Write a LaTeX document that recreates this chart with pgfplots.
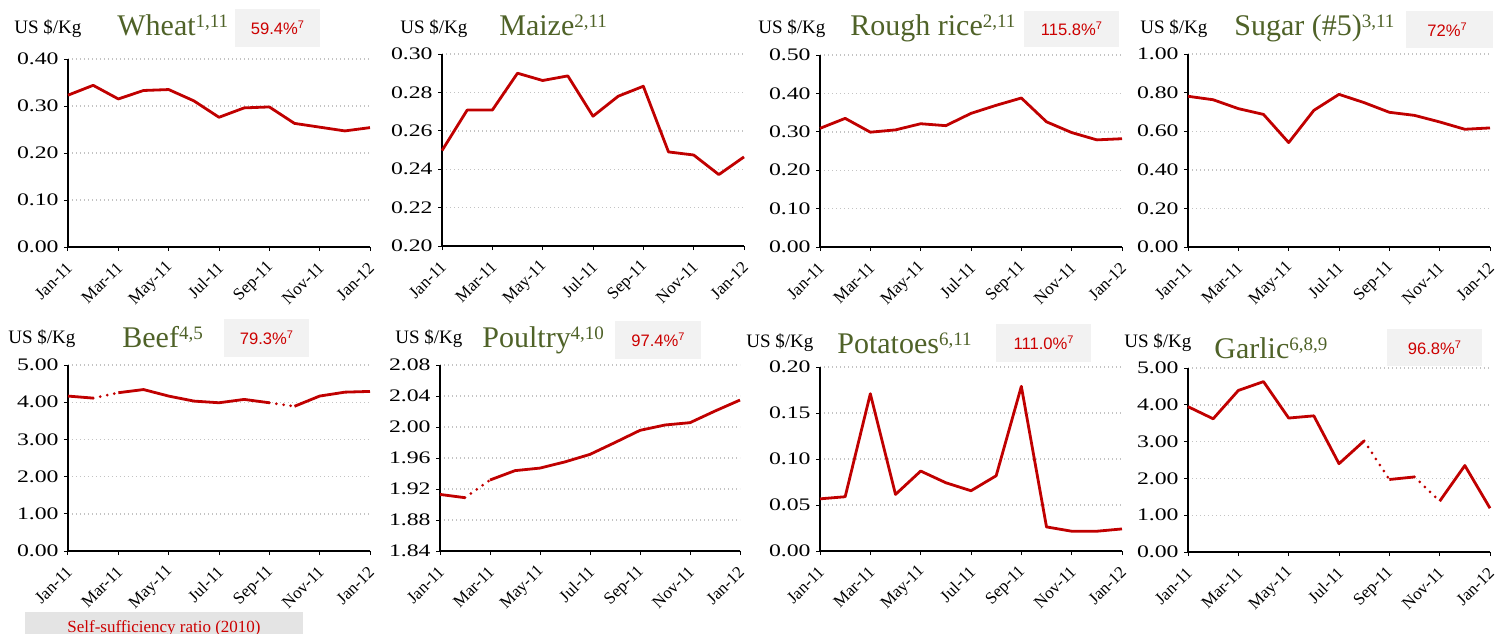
\documentclass[border=0pt]{standalone}
\usepackage{pgfplots}
\pgfplotsset{compat=1.18}
\usepackage{fontspec}
\setmainfont{Liberation Serif}
\newfontfamily\arial{Liberation Sans}
\usepackage{graphicx}
\definecolor{linered}{RGB}{192,0,0}
\definecolor{txtred}{RGB}{204,0,0}
\definecolor{olive}{RGB}{79,98,40}
\definecolor{boxgrey}{RGB}{242,242,242}
\definecolor{boxgrey2}{RGB}{228,228,228}
\definecolor{gridgrey}{RGB}{195,195,195}
\pgfplotsset{
  panel/.style={
    scale only axis, anchor=south west,
    axis lines*=left, axis line style={black, line width=0.6pt},
    tick align=outside, major tick length=2pt,
    tick style={black, line width=0.5pt},
    xmin=0, xmax=12, xtick={0,2,4,6,8,10,12},
    xticklabels={Jan-11,Mar-11,May-11,Jul-11,Sep-11,Nov-11,Jan-12},
    x tick label style={font=\fontsize{8.5}{9}\selectfont, inner sep=0pt, xshift=0.8pt, yshift=-7pt, rotate=45, anchor=east},
    y tick label style={font=\fontsize{8.8}{9}\selectfont, inner sep=1pt, xshift=-1.5pt,
      /pgf/number format/.cd, fixed, fixed zerofill, precision=2, assume math mode=true},
    yticklabel={\scalebox{1.35}[1]{\pgfmathprintnumber{\tick}}},
    ymajorgrids, grid style={gridgrey, line width=0.7pt, dash pattern=on 0.7pt off 1.3pt},
    clip=false,
  },
  ser/.style={linered, line width=1.4pt, line join=round, mark=none},
  dts/.style={linered, line width=1.5pt, line cap=round, dash pattern=on 0pt off 3.6pt, mark=none},
}
\newcommand\US{\fontsize{9.5}{10}\selectfont US \$/Kg}
\newcommand\ttl[2]{{\color{olive}\fontsize{15}{16}\selectfont #1\raisebox{4pt}{\fontsize{9.5}{10}\selectfont #2}}}
\newcommand\pct[1]{{\arial\color{txtred}\fontsize{8.3}{9}\selectfont #1\raisebox{2.8pt}{\fontsize{5.5}{6}\selectfont 7}}}
\begin{document}
\begin{tikzpicture}[x=0.5pt,y=-0.5pt]
\useasboundingbox (0,0) rectangle (1495,633);
% ---------- boxes and titles ----------
\fill[boxgrey] (235,9) rectangle (320,47);
\node at (277.5,28) {\pct{59.4\%}};
\node[anchor=base west, inner sep=0] at (14,33) {\US};
\node[anchor=base west, inner sep=0] at (117,35) {\ttl{Wheat}{1,11}};

\node[anchor=base west, inner sep=0] at (400,33) {\US};
\node[anchor=base west, inner sep=0] at (499,35) {\ttl{Maize}{2,11}};

\fill[boxgrey] (1024,11) rectangle (1119,47);
\node at (1071.5,29) {\pct{115.8\%}};
\node[anchor=base west, inner sep=0] at (758,33) {\US};
\node[anchor=base west, inner sep=0] at (850,35) {\ttl{Rough rice}{2,11}};

\fill[boxgrey] (1406,11) rectangle (1493,48);
\node at (1447,29.5) {\pct{72\%}};
\node[anchor=base west, inner sep=0] at (1140,33) {\US};
\node[anchor=base west, inner sep=0] at (1234,35) {\ttl{Sugar (\#5)}{3,11}};

\fill[boxgrey] (224,319) rectangle (309,357);
\node at (266.5,338) {\pct{79.3\%}};
\node[anchor=base west, inner sep=0] at (8,343) {\US};
\node[anchor=base west, inner sep=0] at (122,347) {\ttl{Beef}{4,5}};

\fill[boxgrey] (615,321) rectangle (701,359);
\node at (658,340) {\pct{97.4\%}};
\node[anchor=base west, inner sep=0] at (395,343) {\US};
\node[anchor=base west, inner sep=0] at (482,347) {\ttl{Poultry}{4,10}};

\fill[boxgrey] (996,324) rectangle (1091,362);
\node at (1043.5,343) {\pct{111.0\%}};
\node[anchor=base west, inner sep=0] at (746,347) {\US};
\node[anchor=base west, inner sep=0] at (837,353) {\ttl{Potatoes}{6,11}};

\fill[boxgrey] (1387,329) rectangle (1482,366);
\node at (1434.5,347.5) {\pct{96.8\%}};
\node[anchor=base west, inner sep=0] at (1124,347) {\US};
\node[anchor=base west, inner sep=0] at (1214,358) {\ttl{Garlic}{6,8,9}};

\fill[boxgrey2] (25,612) rectangle (303,645);
\node[anchor=base, inner sep=0, txtred] at (164,632) {\fontsize{8.5}{9}\selectfont Self-sufficiency ratio (2010)};

% ---------- Wheat ----------
\begin{axis}[panel, at={(34pt,-123.5pt)}, width=151pt, height=94pt,
  ymin=0, ymax=0.4, ytick={0,0.1,0.2,0.3,0.4}]
\addplot[ser] coordinates {(0,0.323)(1,0.344)(2,0.315)(3,0.333)(4,0.335)(5,0.311)(6,0.276)(7,0.296)(8,0.298)(9,0.263)(10,0.255)(11,0.247)(12,0.254)};
\end{axis}
% ---------- Maize ----------
\begin{axis}[panel, at={(221pt,-123pt)}, width=151pt, height=96pt,
  ymin=0.2, ymax=0.3, ytick={0.2,0.22,0.24,0.26,0.28,0.3}]
\addplot[ser] coordinates {(0,0.2497)(1,0.2708)(2,0.2708)(3,0.290)(4,0.2862)(5,0.2886)(6,0.2676)(7,0.278)(8,0.2832)(9,0.249)(10,0.2474)(11,0.2372)(12,0.2464)};
\end{axis}
% ---------- Rough rice ----------
\begin{axis}[panel, at={(410pt,-123.5pt)}, width=151pt, height=96pt,
  ymin=0, ymax=0.5, ytick={0,0.1,0.2,0.3,0.4,0.5}]
\addplot[ser] coordinates {(0,0.309)(1,0.335)(2,0.299)(3,0.305)(4,0.321)(5,0.316)(6,0.348)(7,0.369)(8,0.388)(9,0.326)(10,0.298)(11,0.279)(12,0.282)};
\end{axis}
% ---------- Sugar ----------
\begin{axis}[panel, at={(594pt,-123.5pt)}, width=151pt, height=96.5pt,
  ymin=0, ymax=1, ytick={0,0.2,0.4,0.6,0.8,1}]
\addplot[ser] coordinates {(0,0.781)(1,0.763)(2,0.717)(3,0.687)(4,0.541)(5,0.708)(6,0.791)(7,0.748)(8,0.698)(9,0.682)(10,0.648)(11,0.610)(12,0.617)};
\end{axis}
% ---------- Beef ----------
\begin{axis}[panel, at={(34pt,-275.5pt)}, width=151pt, height=93pt,
  ymin=0, ymax=5, ytick={0,1,2,3,4,5}]
\addplot[ser] coordinates {(0,4.165)(1,4.11)};
\addplot[dts] coordinates {(1,4.11)(2,4.255)};
\addplot[ser] coordinates {(2,4.255)(3,4.34)(4,4.165)(5,4.03)(6,3.985)(7,4.075)(8,3.985)};
\addplot[dts] coordinates {(8,3.985)(9,3.89)};
\addplot[ser] coordinates {(9,3.89)(10,4.165)(11,4.27)(12,4.29)};
\end{axis}
% ---------- Poultry ----------
\begin{axis}[panel, at={(220pt,-275.5pt)}, width=150pt, height=93pt,
  ymin=1.84, ymax=2.08, ytick={1.84,1.88,1.92,1.96,2.00,2.04,2.08}]
\addplot[ser] coordinates {(0,1.913)(1,1.9088)};
\addplot[dts] coordinates {(1,1.9088)(2,1.9316)};
\addplot[ser] coordinates {(2,1.9316)(3,1.9437)(4,1.947)(5,1.955)(6,1.9647)(7,1.980)(8,1.9957)(9,2.0026)(10,2.0056)(11,2.0206)(12,2.0348)};
\end{axis}
% ---------- Potatoes ----------
\begin{axis}[panel, at={(410pt,-275.5pt)}, width=151pt, height=92pt,
  ymin=0, ymax=0.2, ytick={0,0.05,0.1,0.15,0.2}]
\addplot[ser] coordinates {(0,0.0567)(1,0.059)(2,0.171)(3,0.0615)(4,0.0869)(5,0.0742)(6,0.0655)(7,0.0818)(8,0.179)(9,0.0262)(10,0.0215)(11,0.0215)(12,0.024)};
\end{axis}
% ---------- Garlic ----------
\begin{axis}[panel, at={(594pt,-276pt)}, width=151pt, height=92pt,
  ymin=0, ymax=5, ytick={0,1,2,3,4,5}]
\addplot[ser] coordinates {(0,3.95)(1,3.62)(2,4.39)(3,4.63)(4,3.64)(5,3.70)(6,2.40)(7,3.02)};
\addplot[dts] coordinates {(7,3.02)(8,1.97)};
\addplot[ser] coordinates {(8,1.97)(9,2.04)};
\addplot[dts] coordinates {(9,2.04)(10,1.38)};
\addplot[ser] coordinates {(10,1.38)(11,2.35)(12,1.19)};
\end{axis}
\end{tikzpicture}
\end{document}
